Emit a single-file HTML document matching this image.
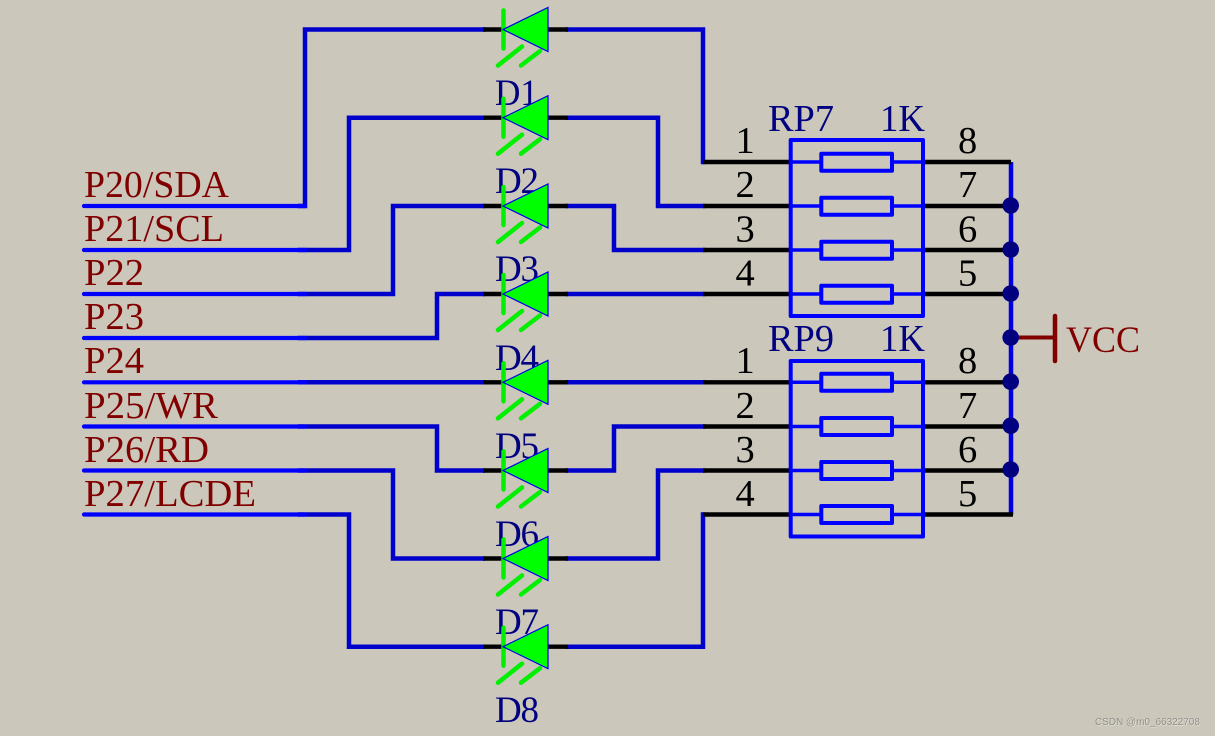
<!DOCTYPE html>
<html>
<head>
<meta charset="utf-8">
<style>
html,body{margin:0;padding:0;background:#cbc7bb;}
svg{display:block;}
text{font-family:"Liberation Serif",serif;font-size:38px;}
.n{fill:#000080;}
.dl text{font-size:37px;}
.r{fill:#800000;}
.k{fill:#000;}
.k text{font-size:38.5px;}
.w{fill:none;stroke:#0000cc;stroke-width:4.5;stroke-linejoin:miter;stroke-linecap:square;}
.s{fill:none;stroke:#0000ff;stroke-width:4.2;stroke-linecap:round;}
.b{fill:none;stroke:#000;stroke-width:4.4;}
.g{stroke:#00f000;stroke-width:4.5;stroke-linecap:round;fill:none;}
.t{fill:#00ff00;stroke:#0000e6;stroke-width:1.2;}
.box{fill:none;stroke:#0000ff;stroke-width:4;stroke-linejoin:round;}
.bl{stroke:#0000ff;stroke-width:3.5;fill:none;}
.d{fill:#000080;}
</style>
</head>
<body>
<svg width="1215" height="736" viewBox="0 0 1215 736" xmlns="http://www.w3.org/2000/svg">
<rect width="1215" height="736" fill="#cbc7bb"/>

<!-- wires -->
<g class="w">
<path d="M300 206H305V29.500H483"/><path d="M568 29.500H703V162"/>
<path d="M300 250H349V117.700H483"/><path d="M568 117.700H658V206H703"/>
<path d="M300 294H393V206H483"/><path d="M568 206H614V250H703"/>
<path d="M300 338H437V294H483"/><path d="M568 294H703"/>
<path d="M300 382.300H483"/><path d="M568 382.300H703"/>
<path d="M300 426.500H437V470.500H483"/><path d="M568 470.500H614V426.500H703"/>
<path d="M300 470.500H393V558.500H483"/><path d="M568 558.500H658V470.500H703"/>
<path d="M300 514.500H349V646.700H483"/><path d="M568 646.700H703V514.500"/>
</g>
<path d="M1011 162V514.500" stroke="#0000e0" stroke-width="4.5" fill="none"/>
<g class="s">
<path d="M84 206H305M84 250H305M84 294H305M84 338H305M84 382.300H305M84 426.500H305M84 470.500H305M84 514.500H305"/>
</g>

<!-- black pin leads -->
<g class="b">
<path d="M703 162H790M703 206H790M703 250H790M703 294H790"/>
<path d="M923 162H1011M923 206H1011M923 250H1011M923 294H1011"/>
<path d="M703 382.300H790M703 426.500H790M703 470.500H790M703 514.500H790"/>
<path d="M923 382.300H1011M923 426.500H1011M923 470.500H1011M923 514.500H1013"/>
<path d="M483 29.500H503M548 29.500H568M483 117.700H503M548 117.700H568M483 206H503M548 206H568M483 294H503M548 294H568M483 382.300H503M548 382.300H568M483 470.500H503M548 470.500H568M483 558.500H503M548 558.500H568M483 646.700H503M548 646.700H568"/>
</g>

<!-- LED reference labels -->
<g class="n dl">
<text x="495" y="105" textLength="43" lengthAdjust="spacingAndGlyphs">D1</text>
<text x="495" y="193" textLength="44">D2</text>
<text x="495" y="281" textLength="44">D3</text>
<text x="495" y="370" textLength="44">D4</text>
<text x="495" y="458" textLength="44">D5</text>
<text x="495" y="546" textLength="44">D6</text>
<text x="495" y="634" textLength="44">D7</text>
<text x="495" y="722" textLength="44">D8</text>
</g>

<!-- LEDs -->
<g>
<g transform="translate(0,29.500)"><path class="g" d="M503.500 -19V19M522 17L498 36M540 21.500L521 36"/><path class="t" d="M503 0L548 -22V22Z"/></g>
<g transform="translate(0,117.700)"><path class="g" d="M503.500 -19V19M522 17L498 36M540 21.500L521 36"/><path class="t" d="M503 0L548 -22V22Z"/></g>
<g transform="translate(0,206)"><path class="g" d="M503.500 -19V19M522 17L498 36M540 21.500L521 36"/><path class="t" d="M503 0L548 -22V22Z"/></g>
<g transform="translate(0,294)"><path class="g" d="M503.500 -19V19M522 17L498 36M540 21.500L521 36"/><path class="t" d="M503 0L548 -22V22Z"/></g>
<g transform="translate(0,382.300)"><path class="g" d="M503.500 -19V19M522 17L498 36M540 21.500L521 36"/><path class="t" d="M503 0L548 -22V22Z"/></g>
<g transform="translate(0,470.500)"><path class="g" d="M503.500 -19V19M522 17L498 36M540 21.500L521 36"/><path class="t" d="M503 0L548 -22V22Z"/></g>
<g transform="translate(0,558.500)"><path class="g" d="M503.500 -19V19M522 17L498 36M540 21.500L521 36"/><path class="t" d="M503 0L548 -22V22Z"/></g>
<g transform="translate(0,646.700)"><path class="g" d="M503.500 -19V19M522 17L498 36M540 21.500L521 36"/><path class="t" d="M503 0L548 -22V22Z"/></g>
</g>

<!-- resistor packs -->
<rect class="box" x="790.700" y="140" width="132.300" height="176"/>
<path class="bl" d="M790 162H820M892 162H923M790 206H820M892 206H923M790 250H820M892 250H923M790 294H820M892 294H923"/>
<g class="box">
<rect x="821.300" y="153.700" width="70.700" height="17"/>
<rect x="821.300" y="197.700" width="70.700" height="17"/>
<rect x="821.300" y="241.700" width="70.700" height="17"/>
<rect x="821.300" y="285.700" width="70.700" height="17"/>
</g>
<rect class="box" x="790.700" y="361" width="132.300" height="175.500"/>
<path class="bl" d="M790 382.300H820M892 382.300H923M790 426.500H820M892 426.500H923M790 470.500H820M892 470.500H923M790 514.500H820M892 514.500H923"/>
<g class="box">
<rect x="821.300" y="373.700" width="70.700" height="17"/>
<rect x="821.300" y="418" width="70.700" height="17"/>
<rect x="821.300" y="462" width="70.700" height="17"/>
<rect x="821.300" y="506" width="70.700" height="17"/>
</g>

<!-- VCC -->
<path d="M1011 337.500H1055" stroke="#800000" stroke-width="4" fill="none"/>
<path d="M1055 316V361" stroke="#800000" stroke-width="4.500" stroke-linecap="round" fill="none"/>
<text class="r" x="1066" y="352" style="font-size:37px" textLength="74" lengthAdjust="spacingAndGlyphs">VCC</text>

<!-- junctions -->
<g class="d">
<circle cx="1010.700" cy="205.500" r="8.300"/>
<circle cx="1010.700" cy="249.500" r="8.300"/>
<circle cx="1010.700" cy="293.500" r="8.300"/>
<circle cx="1010.700" cy="337.500" r="8.300"/>
<circle cx="1010.700" cy="381.700" r="8.300"/>
<circle cx="1010.700" cy="425.700" r="8.300"/>
<circle cx="1010.700" cy="469.500" r="8.300"/>
</g>

<!-- net labels -->
<g class="r">
<text x="84" y="197" textLength="145" lengthAdjust="spacingAndGlyphs">P20/SDA</text>
<text x="84" y="241" textLength="140" lengthAdjust="spacingAndGlyphs">P21/SCL</text>
<text x="84" y="285" textLength="60" lengthAdjust="spacingAndGlyphs">P22</text>
<text x="84" y="329" textLength="60" lengthAdjust="spacingAndGlyphs">P23</text>
<text x="84" y="373" textLength="60" lengthAdjust="spacingAndGlyphs">P24</text>
<text x="84" y="418" textLength="134" lengthAdjust="spacingAndGlyphs">P25/WR</text>
<text x="84" y="462" textLength="125" lengthAdjust="spacingAndGlyphs">P26/RD</text>
<text x="84" y="506" textLength="172" lengthAdjust="spacingAndGlyphs">P27/LCDE</text>
</g>

<!-- component labels -->
<g class="n">
<text x="768" y="131" textLength="66" lengthAdjust="spacingAndGlyphs">RP7</text>
<text x="880" y="131" textLength="45" lengthAdjust="spacingAndGlyphs">1K</text>
<text x="768" y="351" textLength="66" lengthAdjust="spacingAndGlyphs">RP9</text>
<text x="880" y="351" textLength="45" lengthAdjust="spacingAndGlyphs">1K</text>
</g>

<!-- pin numbers -->
<g class="k">
<text x="735.500" y="153">1</text>
<text x="735.500" y="197">2</text>
<text x="735.500" y="241.500">3</text>
<text x="735.500" y="285.500">4</text>
<text x="958" y="153">8</text>
<text x="958" y="197">7</text>
<text x="958" y="241.500">6</text>
<text x="958" y="285.500">5</text>
<text x="735.500" y="373">1</text>
<text x="735.500" y="418">2</text>
<text x="735.500" y="462">3</text>
<text x="735.500" y="506">4</text>
<text x="958" y="373">8</text>
<text x="958" y="418">7</text>
<text x="958" y="462">6</text>
<text x="958" y="506">5</text>
</g>

<!-- watermark -->
<text x="1095.500" y="725.500" textLength="105" lengthAdjust="spacingAndGlyphs" style="font-family:'Liberation Sans',sans-serif;font-size:10px;fill:#ffffff;opacity:.7">CSDN @m0_66322708</text>
<text x="1095" y="725" textLength="105" lengthAdjust="spacingAndGlyphs" style="font-family:'Liberation Sans',sans-serif;font-size:10px;fill:#8f8c84">CSDN @m0_66322708</text>
</svg>
</body>
</html>
